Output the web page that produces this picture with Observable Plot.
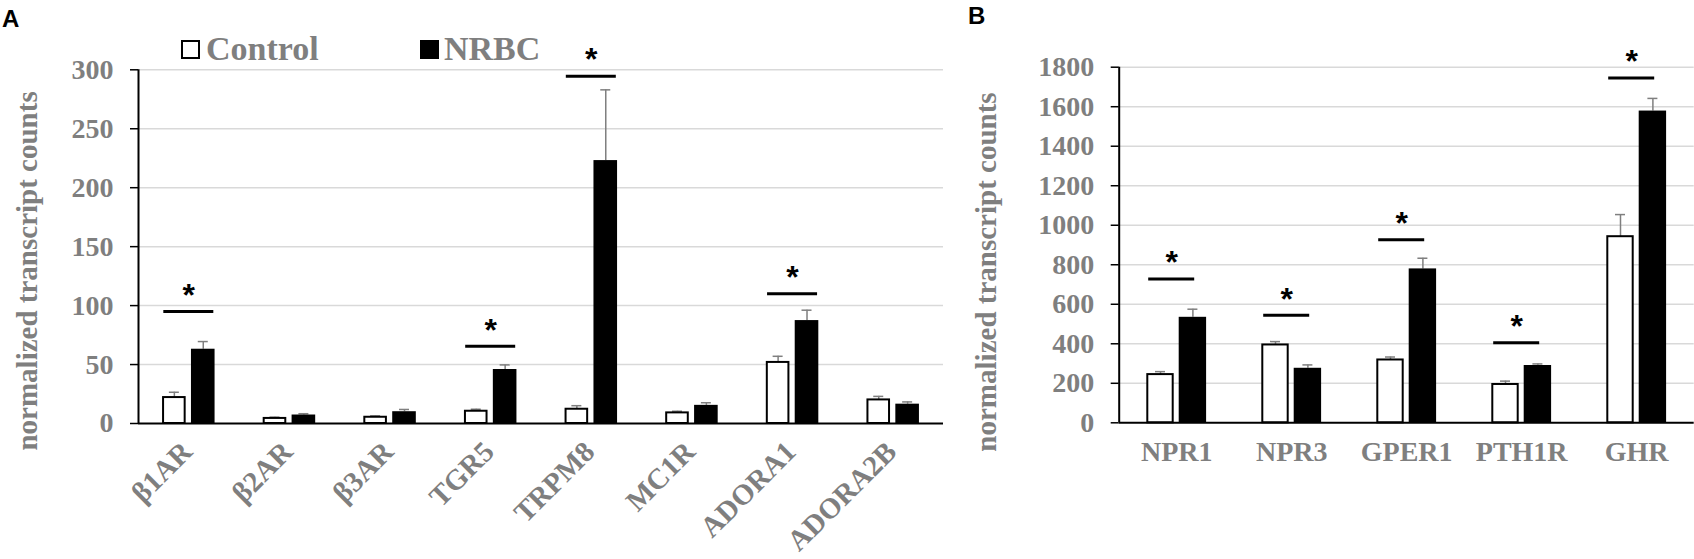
<!DOCTYPE html>
<html>
<head>
<meta charset="utf-8">
<script src="https://cdn.jsdelivr.net/npm/d3@7"></script>
<script src="https://cdn.jsdelivr.net/npm/@observablehq/plot@0.6"></script>
<style>
  html, body { margin: 0; padding: 0; background: #fff; }
  #wrap { position: relative; width: 1694px; height: 559px; overflow: hidden; background: #fff; }
  .panel { position: absolute; top: 0; z-index: 1; }
  .over { z-index: 2; }
  .letter { position: absolute; font-family: "Liberation Sans", Arial, sans-serif; font-weight: bold; font-size: 24px; line-height: 1; color: #000; }
  .legsq { position: absolute; width: 15px; height: 15px; border: 2px solid #000; box-sizing: content-box; }
  .legtx { position: absolute; font-family: "Liberation Serif", "Times New Roman", serif; font-weight: bold; font-size: 34px; line-height: 1; color: #7f7f7f; white-space: nowrap; }
</style>
</head>
<body>
<div id="wrap">
  <div id="pa" class="panel" style="left:0px;"></div>
  <div id="pb" class="panel" style="left:960px;"></div>
  <div class="letter over" style="left:2px; top:7px;">A</div>
  <div class="letter over" style="left:968px; top:4px;">B</div>
  <div class="legsq over" style="left:181px; top:40px; background:#fff;"></div>
  <div class="legtx over" style="left:206px; top:32px;">Control</div>
  <div class="legsq over" style="left:420px; top:40px; background:#000;"></div>
  <div class="legtx over" style="left:444px; top:32px;">NRBC</div>
</div>
<script>
// ---------- Data: panel A ----------
const genesA = ["β1AR", "β2AR", "β3AR", "TGR5", "TRPM8", "MC1R", "ADORA1", "ADORA2B"];
const controlA = [22, 4.3, 5.3, 10.4, 12.1, 9, 51.8, 20];
const controlErrA = [4.5, 1.1, 1.2, 1.7, 3, 1.4, 5.2, 3];
const nrbcA = [63, 7.2, 10, 45.8, 223, 15.4, 87.3, 16.4];
const nrbcErrA = [6.5, 1.1, 1.9, 3.9, 60, 2.2, 8.8, 1.9];
const sigGenesA = ["β1AR", "TGR5", "TRPM8", "ADORA1"];
const sigLevelA = [95, 65.5, 294.6, 110];
const ticksA = [0, 50, 100, 150, 200, 250, 300];

// ---------- Data: panel B ----------
const genesB = ["NPR1", "NPR3", "GPER1", "PTH1R", "GHR"];
const controlB = [244, 394, 318, 194, 942];
const controlErrB = [15, 17, 15, 17, 112];
const nrbcB = [534, 276, 779, 290, 1578];
const nrbcErrB = [41, 17, 54, 8, 64];
const sigGenesB = ["NPR1", "NPR3", "GPER1", "PTH1R", "GHR"];
const sigLevelB = [728, 544, 926, 405, 1745];
const ticksB = [0, 200, 400, 600, 800, 1000, 1200, 1400, 1600, 1800];

const yTitle = "normalized transcript counts";
const GRAY = "#7f7f7f";
const GRID = "#d9d9d9";
const SERIF = "'Liberation Serif', 'Times New Roman', serif";
const SANS = "'Liberation Sans', Arial, sans-serif";

function rows(genes, c, ce, n, ne) {
  return genes.map((g, i) => ({gene: g, control: c[i], cerr: ce[i], nrbc: n[i], nerr: ne[i]}));
}

function panel(cfg) {
  const {genes, data, sig, ticks, width, height, mt, mb, ml, mr, barW, gap, sigW, sigDx,
         rotateLabels, labelSize, labelDx, labelDy, titleDx, titleDy} = cfg;
  const step = (width - ml - mr) / genes.length;
  const half = step / 2;
  const sw = 2;          // outline of white bars
  const capW = 10;
  const cL = half - (gap / 2 + barW) + sw / 2, cR = half + gap / 2 + sw / 2;
  const nL = half + gap / 2, nR = half - gap / 2 - barW;
  const cC = -(gap / 2 + barW / 2), nC = gap / 2 + barW / 2;
  const capIns = (off) => ({insetLeft: half + off - capW / 2, insetRight: half - off - capW / 2});
  const sigIns = {insetLeft: half + sigDx - sigW / 2, insetRight: half - sigDx - sigW / 2};

  const marks = [
    Plot.gridY(ticks.filter(t => t > 0), {stroke: GRID, strokeOpacity: 1, strokeWidth: 1.5}),
    Plot.axisY(ticks, {tickSize: 8, tickPadding: 17, stroke: "black", strokeWidth: 1.5, fill: GRAY,
      fontSize: 28, fontWeight: "bold", label: null, tickFormat: d => String(d)}),
    Plot.ruleX(data, {x: "gene", y1: "control", y2: d => d.control + d.cerr, dx: cC, stroke: GRAY, strokeWidth: 1.5}),
    Plot.ruleX(data, {x: "gene", y1: "nrbc", y2: d => d.nrbc + d.nerr, dx: nC, stroke: GRAY, strokeWidth: 1.5}),
    Plot.tickY(data, {x: "gene", y: d => d.control + d.cerr, ...capIns(cC), stroke: GRAY, strokeWidth: 1.5}),
    Plot.tickY(data, {x: "gene", y: d => d.nrbc + d.nerr, ...capIns(nC), stroke: GRAY, strokeWidth: 1.5}),
    Plot.barY(data, {x: "gene", y: "control", insetLeft: cL, insetRight: cR, fill: "white", stroke: "black", strokeWidth: sw}),
    Plot.barY(data, {x: "gene", y: "nrbc", insetLeft: nL, insetRight: nR, fill: "black"}),
    Plot.ruleY([0], {stroke: "black", strokeWidth: 2}),
    Plot.ruleX([genes[0]], {dx: -half, stroke: "black", strokeWidth: 2}),
    Plot.tickY(sig, {x: "gene", y: "level", ...sigIns, stroke: "black", strokeWidth: 3}),
    Plot.text(sig, {x: "gene", y: "level", text: () => "*", dx: sigDx, dy: -16, fontSize: 32,
      fontFamily: SANS, fontWeight: "bold", fill: "black"}),
    Plot.text(genes, rotateLabels
      ? {x: d => d, frameAnchor: "bottom", rotate: -45, textAnchor: "end", dx: labelDx, dy: labelDy,
         fontSize: labelSize, fontWeight: "bold", fill: GRAY}
      : {x: d => d, frameAnchor: "bottom", lineAnchor: "top", textAnchor: "middle", dy: labelDy,
         fontSize: labelSize, fontWeight: "bold", fill: GRAY}),
    Plot.text([yTitle], {frameAnchor: "left", textAnchor: "middle", rotate: -90, dx: titleDx, dy: titleDy,
      fontSize: 29, fontWeight: "bold", fill: GRAY})
  ];

  return Plot.plot({
    width, height,
    marginTop: mt, marginBottom: mb, marginLeft: ml, marginRight: mr,
    x: {type: "band", domain: genes, paddingInner: 0, paddingOuter: 0, round: false, axis: null},
    y: {domain: [ticks[0], ticks[ticks.length - 1]], label: null},
    style: {fontFamily: SERIF, background: "transparent", overflow: "visible"},
    marks
  });
}

const dataA = rows(genesA, controlA, controlErrA, nrbcA, nrbcErrA);
const sigA = sigGenesA.map((g, i) => ({gene: g, level: sigLevelA[i]}));
const dataB = rows(genesB, controlB, controlErrB, nrbcB, nrbcErrB);
const sigB = sigGenesB.map((g, i) => ({gene: g, level: sigLevelB[i]}));

document.getElementById("pa").append(panel({
  genes: genesA, data: dataA, sig: sigA, ticks: ticksA,
  width: 960, height: 559, mt: 69.3, mb: 136, ml: 138, mr: 17,
  barW: 23.6, gap: 5.3, sigW: 50, sigDx: 0,
  rotateLabels: true, labelSize: 29, labelDx: 5, labelDy: 30, titleDx: -110.5, titleDy: 24.3
}));

document.getElementById("pb").append(panel({
  genes: genesB, data: dataB, sig: sigB, ticks: ticksB,
  width: 734, height: 559, mt: 66.7, mb: 136.7, ml: 158.7, mr: 0.3,
  barW: 27.4, gap: 5, sigW: 46, sigDx: -5,
  rotateLabels: false, labelSize: 28, labelDx: 0, labelDy: 18.3, titleDx: -132.7, titleDy: 27
}));
</script>
</body>
</html>
